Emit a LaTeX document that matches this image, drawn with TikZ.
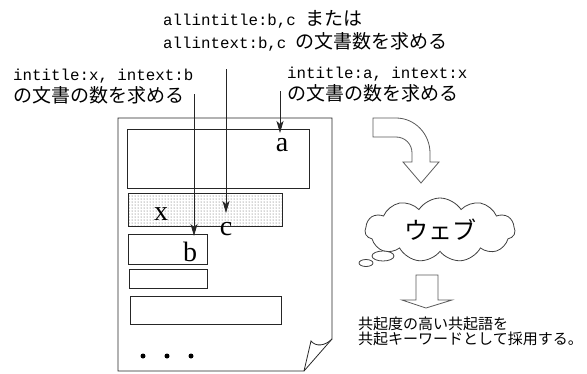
\documentclass[tikz,border=0pt]{standalone}
\usepackage{fontspec}
\setmainfont{Liberation Serif}
\newfontfamily\cjkfont{Noto Sans CJK JP}
\newfontfamily\monofont{Liberation Mono}
\usetikzlibrary{shapes.symbols,patterns,arrows.meta}
\newcommand\jatext[1]{{\cjkfont\fontsize{19}{22}\selectfont #1}}
\begin{document}
\begin{tikzpicture}[x=1pt,y=-1pt,
  rectbox/.style={draw=black!85, line width=0.8pt, inner sep=0pt},
  ptr/.style={draw=black!85, line width=0.8pt, -{Stealth[length=12pt,width=7pt,inset=3pt]}},
  hollow/.style={draw=black!65, line width=0.8pt, fill=white, line join=miter},
  lbl/.style={font=\monofont\fontsize{15.8}{19}\selectfont, anchor=base west, inner sep=0pt},
  letter/.style={font=\fontsize{28}{28}\selectfont, anchor=base, inner sep=0pt},
  note/.style={font=\cjkfont\fontsize{15}{18}\selectfont, anchor=base west, inner sep=0pt},
  dot/.style={circle, fill=black, inner sep=0pt, minimum size=5pt}]
\useasboundingbox (0,0) rectangle (587,373);

% labels
\node[lbl] (q2a) at (163,25) {allintitle:b,c \jatext{または}};
\node[lbl] (q2b) at (163,48) {allintext:b,c \jatext{の文書数を求める}};
\node[lbl] (q1a) at (13,80) {intitle:x, intext:b};
\node[lbl] (q1b) at (13,102) {\jatext{の文書の数を求める}};
\node[lbl] (q3a) at (287,78) {intitle:a, intext:x};
\node[lbl] (q3b) at (287,100) {\jatext{の文書の数を求める}};

% document
\draw[draw=black!85, line width=0.8pt, line join=miter] (118,118) -- (332,118) -- (332,339) -- (304,371) -- (118,371) -- cycle;
\draw[draw=black!85, line width=0.8pt] (304,371) -- (311,341) .. controls (316,347) and (325,346) .. (332,339);

\node[rectbox, minimum width=182pt, minimum height=59pt] (ra) at (218,158.5) {};
\node[rectbox, minimum width=154pt, minimum height=33pt, pattern=dots, pattern color=black!70] (rx) at (205,209.5) {};
\node[rectbox, minimum width=79pt, minimum height=30pt] (rb) at (167.5,249) {};
\node[rectbox, minimum width=78pt, minimum height=19pt] (r4) at (168,278.5) {};
\node[rectbox, minimum width=151pt, minimum height=28pt] (r5) at (205.5,310) {};

\node[letter] (la) at (282,151) {a};
\node[letter] (lx) at (161,220) {x};
\node[letter] (lc) at (226,235) {c};
\node[letter] (lb) at (190,261) {b};

\node[dot] (d1) at (143,356) {};
\node[dot] (d2) at (167,356) {};
\node[dot] (d3) at (191,356) {};

% pointers
\coordinate (s1) at (194,94);  \coordinate (e1) at (194,236);
\coordinate (s2) at (226,69);  \coordinate (e2) at (226,213);
\coordinate (s3) at (280,91);  \coordinate (e3) at (280,133);
\draw[ptr] (s1) -- (e1);
\draw[ptr] (s2) -- (e2);
\draw[ptr] (s3) -- (e3);

% curved hollow arrow
\draw[hollow] (373,118) -- (396,118) .. controls (415,118) and (430,134) .. (430,153)
  -- (430,162) -- (439,162) -- (421,183) -- (403,162) -- (412,162) -- (412,153)
  .. controls (412,144) and (405,137) .. (396,137) -- (373,137) -- cycle;

% cloud
\node[cloud, draw=black!75, line width=0.8pt, cloud puffs=11, cloud puff arc=115,
  cloud ignores aspect, minimum width=150pt, minimum height=64pt,
  font=\cjkfont\fontsize{24}{24}\selectfont, inner sep=0pt] (web) at (440,230) {ウェブ};
\draw[draw=black!75, line width=0.8pt, fill=white] (383,256) ellipse [x radius=11, y radius=5];
\draw[draw=black!75, line width=0.8pt, fill=white] (366,263) ellipse [x radius=7, y radius=3.5];

% down hollow arrow
\draw[hollow] (416,275) -- (438,275) -- (438,300) -- (452,300) -- (426,308) -- (402,300) -- (416,300) -- cycle;

\node[note] (n1) at (358,329) {共起度の高い共起語を};
\node[note] (n2) at (358,344) {共起キーワードとして採用する。};
\end{tikzpicture}
\end{document}
